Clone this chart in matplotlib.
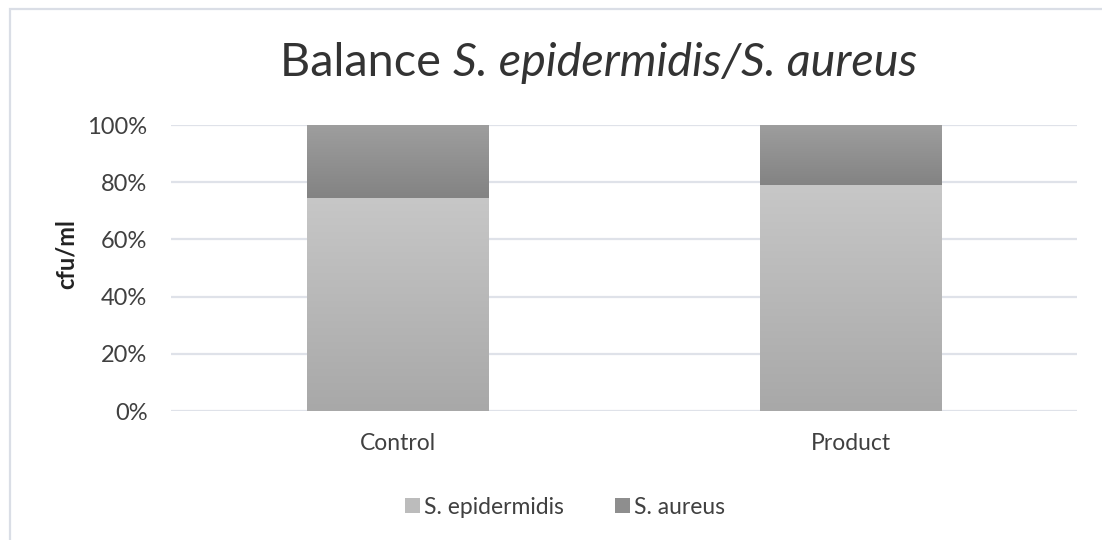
import numpy as np
import matplotlib; matplotlib.use('Agg')
import matplotlib.pyplot as plt
from matplotlib.colors import LinearSegmentedColormap
from matplotlib.patches import Rectangle, Patch

plt.rcParams['font.family'] = ['Lato', 'DejaVu Sans']

categories = ['Control', 'Product']
series_names = ['S. epidermidis', 'S. aureus']
epidermidis = [0.745, 0.79]
aureus = [0.255, 0.21]
yticks = [0, 0.2, 0.4, 0.6, 0.8, 1.0]
ytick_labels = ['0%', '20%', '40%', '60%', '80%', '100%']

# gradient (bottom colour, top colour) per series
grads = [('#a8a8a8', '#c7c7c7'), ('#838383', '#9e9e9e')]
legend_cols = ['#bcbcbc', '#8e8e8e']

fig = plt.figure(figsize=(11.02, 5.40), dpi=100)
ax = fig.add_axes([171/1102, 1-411/540, (1077-171)/1102, (411-125)/540])

x = np.arange(len(categories))
bottoms = np.zeros(len(categories))
for vals, (c0, c1) in zip([epidermidis, aureus], grads):
    bars = ax.bar(x, vals, 0.4, bottom=bottoms, color='none', edgecolor='none', zorder=3)
    cm = LinearSegmentedColormap.from_list('g', [c0, c1])
    for b in bars:
        x0, y0, w, h = b.get_x(), b.get_y(), b.get_width(), b.get_height()
        ax.imshow(np.linspace(0, 1, 256).reshape(-1, 1), cmap=cm, origin='lower',
                  extent=(x0, x0 + w, y0, y0 + h), aspect='auto', zorder=3,
                  interpolation='bicubic')
    bottoms = bottoms + np.array(vals)

ax.set_xlim(-0.5, len(categories) - 0.5)
ax.set_ylim(0, 1)
ax.set_yticks(yticks)
ax.set_yticklabels(ytick_labels)
ax.set_xticks(x)
ax.set_xticklabels(categories)
ax.yaxis.grid(True, color='#dfe2e9', lw=1.6, zorder=0)
ax.set_axisbelow(True)
for s in ax.spines.values():
    s.set_visible(False)
ax.tick_params(axis='both', length=0, colors='#404040')
ax.tick_params(axis='y', pad=17, labelsize=17)
ax.tick_params(axis='x', pad=16, labelsize=16.5)
fig.text(66/1102, 1-254/540, 'cfu/ml', rotation=90, fontsize=17, fontweight='bold',
         color='#222222', ha='center', va='center')

handles = [Patch(facecolor=c, label=n) for c, n in zip(legend_cols, series_names)]
fig.legend(handles=handles, loc='center', bbox_to_anchor=(565/1102, 1-507/540), ncol=2,
           frameon=False, fontsize=16.5, handlelength=0.65, handleheight=0.65,
           handletextpad=0.2, columnspacing=2.2, labelcolor='#404040')

# title: regular + italic parts
t1 = fig.text(280/1102, 1-76/540, 'Balance ', fontsize=33.7, color='#333333', ha='left', va='baseline')
ax.annotate('S. epidermidis/S. aureus', xy=(1, 0), xycoords=t1, fontsize=33.7,
            style='italic', color='#333333', ha='left', va='bottom')

# chart area border (cropped on right and bottom)
fig.patches.append(Rectangle((10/1102, -0.05), 1.2, 1.05 - 9/540, transform=fig.transFigure,
                             fill=False, edgecolor='#dadee6', lw=1.6))

fig.savefig('out.png', dpi=100)
